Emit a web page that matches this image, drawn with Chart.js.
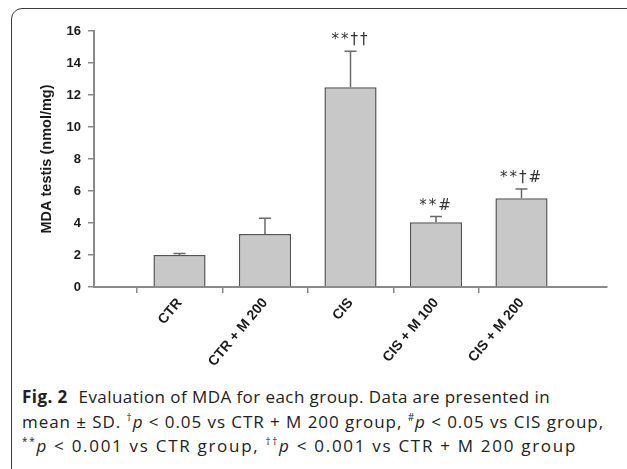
<!DOCTYPE html>
<html>
<head>
<meta charset="utf-8">
<script src="https://cdn.jsdelivr.net/npm/chart.js@4/dist/chart.umd.min.js"></script>
<style>
  html, body { margin: 0; padding: 0; background: #fff; }
  body { width: 627px; height: 469px; position: relative; overflow: hidden; }
  #frame { position: absolute; left: 11px; top: 8px; width: 660px; height: 520px;
           border: 1.5px solid #3a3a3a; border-radius: 11px; box-sizing: border-box; }
  #wrap { position: absolute; left: 0; top: 0; width: 627px; height: 370px; }
  #caption { position: absolute; left: 22px; top: 385px; width: 605px;
             font-family: "Open Sans", Lato, sans-serif; font-size: 17px; line-height: 24.5px;
             color: #222; white-space: nowrap; }
  #caption .ln { display: inline-block; white-space: nowrap; }
  #caption b { font-weight: 700; margin-right: 6px; }
  #caption sup { font-size: 10px; vertical-align: 7px; line-height: 0; }
</style>
</head>
<body>
<div id="frame"></div>
<div id="wrap"><canvas id="c"></canvas></div>
<div id="caption"><span class="ln" data-w="528"><b>Fig. 2</b> Evaluation of MDA for each group. Data are presented in</span><br><span class="ln" data-w="582">mean ± SD. <sup>†</sup><i>p</i> &lt; 0.05 vs CTR + M 200 group, <sup>#</sup><i>p</i> &lt; 0.05 vs CIS group,</span><br><span class="ln" data-w="555"><sup>**</sup><i>p</i> &lt; 0.001 vs CTR group, <sup>††</sup><i>p</i> &lt; 0.001 vs CTR + M 200 group</span></div>
<script>
const categories = ["CTR", "CTR + M 200", "CIS", "CIS + M 100", "CIS + M 200"];
const means = [2.0, 3.31, 12.48, 4.04, 5.54];
const sds = [0.1, 0.98, 2.25, 0.36, 0.58];
const annotations = ["", "", "**††", "**#", "**†#"];
const yTicks = [0, 2, 4, 6, 8, 10, 12, 14, 16];

// padded with empty slots at both ends so bars sit on ticks 1..5 of 0..6
const labels = ["", ...categories, ""];
const values = [null, ...means, null];
const sdValues = [null, ...sds, null];
const notes = ["", ...annotations, ""];

// fit caption lines to the reference line lengths
document.querySelectorAll("#caption .ln").forEach(el => {
  const target = parseFloat(el.dataset.w);
  const natural = el.getBoundingClientRect().width;
  const n = el.textContent.length;
  el.style.letterSpacing = ((target - natural) / n).toFixed(3) + "px";
});

const axisColor = "#8a8a8a";

const errorBars = {
  id: "errorBars",
  afterDatasetsDraw(chart) {
    const ctx = chart.ctx;
    const meta = chart.getDatasetMeta(0);
    const y = chart.scales.y;
    ctx.save();
    meta.data.forEach((bar, i) => {
      const m = values[i];
      if (m === null) return;
      const top = y.getPixelForValue(m + sdValues[i]);
      const base = y.getPixelForValue(m);
      ctx.strokeStyle = "#6a6a6a";
      ctx.lineWidth = 1.5;
      ctx.beginPath();
      ctx.moveTo(bar.x, base);
      ctx.lineTo(bar.x, top);
      ctx.moveTo(bar.x - 6, top);
      ctx.lineTo(bar.x + 6, top);
      ctx.stroke();
      if (notes[i]) {
        ctx.fillStyle = "#333";
        ctx.font = "15px 'DejaVu Sans'";
        ctx.letterSpacing = "2px";
        ctx.textAlign = "center";
        ctx.textBaseline = "alphabetic";
        ctx.fillText(notes[i], bar.x, top - 7);
      }
    });
    ctx.restore();
  }
};

const fam = "'Liberation Sans', Arial, sans-serif";

new Chart(document.getElementById("c"), {
  type: "bar",
  data: {
    labels: labels,
    datasets: [{
      data: values,
      backgroundColor: "#c8c8c8",
      borderColor: "#555555",
      borderWidth: 1.5,
      barPercentage: 0.61,
      categoryPercentage: 1.0
    }]
  },
  options: {
    responsive: true,
    maintainAspectRatio: false,
    animation: false,
    layout: { padding: { left: 12, right: 20, top: 31, bottom: 0 } },
    plugins: { legend: { display: false }, tooltip: { enabled: false } },
    scales: {
      x: {
        offset: false,
        afterFit(s) { s.height = 83; },
        border: { color: axisColor, width: 2 },
        grid: {
          drawOnChartArea: false, drawTicks: true, tickLength: 6,
          color: (c) => (c.index === 0 || c.index === labels.length - 1) ? "rgba(0,0,0,0)" : axisColor,
          lineWidth: 1.5
        },
        ticks: {
          autoSkip: false, minRotation: 50, maxRotation: 50, padding: 2,
          color: "#1a1a1a",
          font: { family: fam, size: 14, weight: "bold" }
        }
      },
      y: {
        min: 0, max: 16,
        afterFit(s) { s.width = 82; },
        afterBuildTicks(s) { s.ticks = yTicks.map(v => ({ value: v })); },
        border: { color: axisColor, width: 2 },
        grid: { drawOnChartArea: false, drawTicks: true, tickLength: 6, color: axisColor, lineWidth: 1.5 },
        ticks: {
          padding: 7, color: "#1a1a1a",
          font: { family: fam, size: 13, weight: "bold" }
        },
        title: {
          display: true, text: "MDA testis (nmol/mg)", color: "#1a1a1a", padding: { top: 26, bottom: 0 },
          font: { family: fam, size: 14.5, weight: "bold" }
        }
      }
    }
  },
  plugins: [errorBars]
});
</script>
</body>
</html>
